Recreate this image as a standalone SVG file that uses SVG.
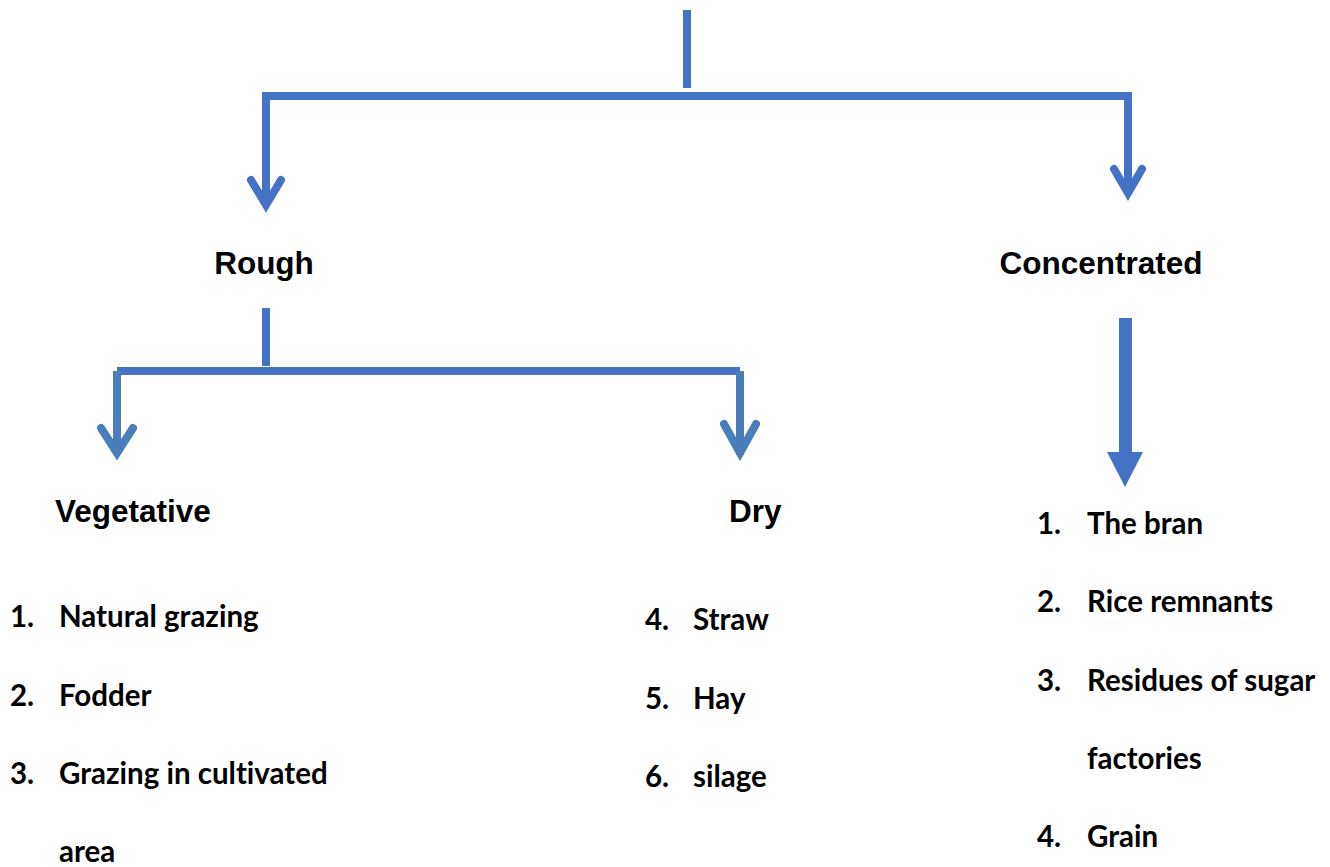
<svg xmlns="http://www.w3.org/2000/svg" width="1330" height="867" viewBox="0 0 1330 867">
<style>
.ln{fill:none;stroke:#4472C4;stroke-width:8}
.ln2{fill:none;stroke:#4A7EBB;stroke-width:8}
.hd{fill:none;stroke:#4472C4;stroke-width:8;stroke-linecap:round;stroke-linejoin:miter}
.hd2{fill:none;stroke:#4A7EBB;stroke-width:8;stroke-linecap:round;stroke-linejoin:miter}
.h{font-family:"Liberation Sans",Arial,sans-serif;font-weight:bold;font-size:31.5px;fill:#000}
.li{font-family:Lato,"Open Sans",sans-serif;font-weight:bold;font-size:29.5px;fill:#000;font-variant-ligatures:none}
</style>
<rect width="1330" height="867" fill="#fff"/>
<g id="connectors">
<line class="ln" x1="687" y1="10" x2="687" y2="88"/>
<polyline class="ln" points="266,205 266,96 1128,96 1128,193"/>
<polyline class="hd" points="251,180 266,205 281,180"/>
<polyline class="hd" points="1114,169 1128,193 1142,169"/>
<line class="ln" x1="266" y1="308" x2="266" y2="366"/>
<polyline class="ln" points="117,371 740,371"/>
<line class="ln2" x1="117" y1="371" x2="117" y2="453"/>
<line class="ln2" x1="740" y1="371" x2="740" y2="455"/>
<polyline class="hd2" points="101,428 117,453 133,428"/>
<polyline class="hd2" points="724,424 740,453 756,424"/>
<rect x="1119" y="318" width="13" height="135" fill="#4472C4"/>
<polygon points="1107,452 1143,452 1125,487" fill="#4472C4"/>
</g>
<g id="rough"><text class="h" x="264" y="274" text-anchor="middle">Rough</text></g>
<g id="concentrated"><text class="h" x="1101" y="274" text-anchor="middle">Concentrated</text></g>
<g id="vegetative"><text class="h" x="55" y="522">Vegetative</text></g>
<g id="dry"><text class="h" x="729" y="522">Dry</text></g>
<g id="vegetative-list">
<text class="li" x="10" y="627">1.</text><text class="li" x="59" y="627">Natural grazing</text>
<text class="li" x="10" y="706">2.</text><text class="li" x="59" y="706">Fodder</text>
<text class="li" x="10" y="784">3.</text><text class="li" x="59" y="784">Grazing in cultivated</text>
<text class="li" x="59" y="862">area</text>
</g>
<g id="dry-list">
<text class="li" x="645" y="630">4.</text><text class="li" x="693" y="630">Straw</text>
<text class="li" x="645" y="709">5.</text><text class="li" x="693" y="709">Hay</text>
<text class="li" x="645" y="787">6.</text><text class="li" x="693" y="787">silage</text>
</g>
<g id="concentrated-list">
<text class="li" x="1037" y="534">1.</text><text class="li" x="1087" y="534">The bran</text>
<text class="li" x="1037" y="612">2.</text><text class="li" x="1087" y="612">Rice remnants</text>
<text class="li" x="1037" y="691">3.</text><text class="li" x="1087" y="691">Residues of sugar</text>
<text class="li" x="1087" y="769">factories</text>
<text class="li" x="1037" y="847">4.</text><text class="li" x="1087" y="847">Grain</text>
</g>
</svg>
